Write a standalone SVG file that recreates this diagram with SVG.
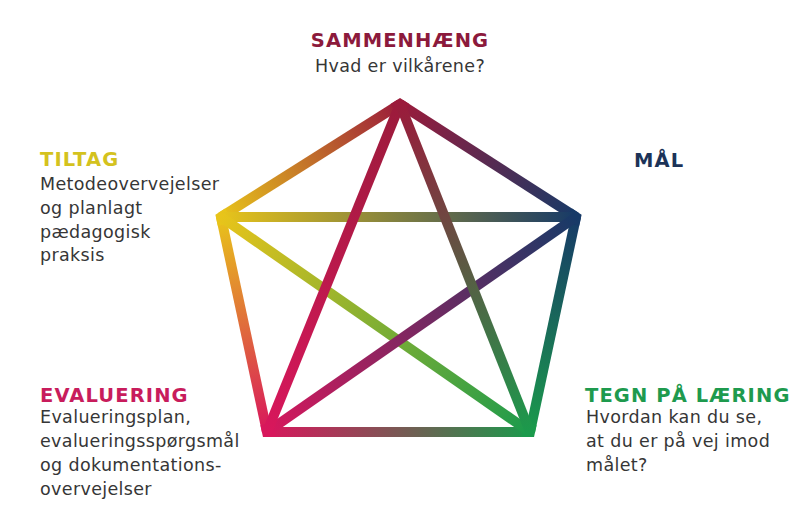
<svg xmlns="http://www.w3.org/2000/svg" width="805" height="505" viewBox="0 0 805 505">
<style>
.e{fill:none;stroke-width:10;stroke-linecap:butt}
.c{fill:none;stroke-width:10;stroke-linejoin:miter;stroke-miterlimit:10;stroke-linecap:butt}
.h{font-family:"DejaVu Sans",Verdana,sans-serif;font-weight:bold;font-size:19.5px;letter-spacing:1.1px}
.b{font-family:"DejaVu Sans",Verdana,sans-serif;font-size:17.5px;fill:#363636;letter-spacing:0.35px}
</style>
<defs>
<linearGradient id="gTR" gradientUnits="userSpaceOnUse" x1="400" y1="104" x2="576" y2="217"><stop offset="0" stop-color="#9b1b3b"/><stop offset="1" stop-color="#173a67"/></linearGradient>
<linearGradient id="gRBR" gradientUnits="userSpaceOnUse" x1="576" y1="217" x2="530" y2="432"><stop offset="0" stop-color="#173a67"/><stop offset="1" stop-color="#1b9a4c"/></linearGradient>
<linearGradient id="gBRBL" gradientUnits="userSpaceOnUse" x1="530" y1="432" x2="267" y2="432"><stop offset="0" stop-color="#1b9a4c"/><stop offset="1" stop-color="#d8175c"/></linearGradient>
<linearGradient id="gBLL" gradientUnits="userSpaceOnUse" x1="267" y1="432" x2="221" y2="217"><stop offset="0" stop-color="#d8175c"/><stop offset="1" stop-color="#e8c41a"/></linearGradient>
<linearGradient id="gLT" gradientUnits="userSpaceOnUse" x1="221" y1="217" x2="400" y2="104"><stop offset="0" stop-color="#e8c41a"/><stop offset="1" stop-color="#9b1b3b"/></linearGradient>
<linearGradient id="gTBL" gradientUnits="userSpaceOnUse" x1="400" y1="104" x2="267" y2="432"><stop offset="0" stop-color="#9b1b3b"/><stop offset="1" stop-color="#d8175c"/></linearGradient>
<linearGradient id="gTBR" gradientUnits="userSpaceOnUse" x1="400" y1="104" x2="530" y2="432"><stop offset="0" stop-color="#9b1b3b"/><stop offset="1" stop-color="#1b9a4c"/></linearGradient>
<linearGradient id="gLR" gradientUnits="userSpaceOnUse" x1="221" y1="217" x2="576" y2="217"><stop offset="0" stop-color="#e8c41a"/><stop offset="1" stop-color="#173a67"/></linearGradient>
<linearGradient id="gLBR" gradientUnits="userSpaceOnUse" x1="221" y1="217" x2="530" y2="432"><stop offset="0" stop-color="#e8c41a"/><stop offset="1" stop-color="#1b9a4c"/></linearGradient>
<linearGradient id="gRBL" gradientUnits="userSpaceOnUse" x1="576" y1="217" x2="267" y2="432"><stop offset="0" stop-color="#173a67"/><stop offset="1" stop-color="#d8175c"/></linearGradient>
</defs>
<rect width="805" height="505" fill="#ffffff"/>
<g id="connectors">
<line class="e" x1="400" y1="104" x2="576" y2="217" stroke="url(#gTR)"/>
<line class="e" x1="576" y1="217" x2="530" y2="432" stroke="url(#gRBR)"/>
<line class="e" x1="530" y1="432" x2="267" y2="432" stroke="url(#gBRBL)"/>
<line class="e" x1="267" y1="432" x2="221" y2="217" stroke="url(#gBLL)"/>
<line class="e" x1="221" y1="217" x2="400" y2="104" stroke="url(#gLT)"/>
<path class="c" d="M393.2 108.3L400 104L406.7 108.3" stroke="#9b1b3b"/>
<path class="c" d="M569.3 212.7L576 217L574.3 224.8" stroke="#173a67"/>
<path class="c" d="M531.7 424.2L530 432L522 432" stroke="#1b9a4c"/>
<path class="c" d="M275 432L267 432L265.3 424.2" stroke="#d8175c"/>
<path class="c" d="M222.7 224.8L221 217L227.8 212.7" stroke="#e8c41a"/>
<line class="e" x1="221" y1="217" x2="576" y2="217" stroke="url(#gLR)"/>
<line class="e" x1="221" y1="217" x2="530" y2="432" stroke="url(#gLBR)"/>
<line class="e" x1="576" y1="217" x2="267" y2="432" stroke="url(#gRBL)"/>
<line class="e" x1="400" y1="104" x2="267" y2="432" stroke="url(#gTBL)"/>
<line class="e" x1="400" y1="104" x2="530" y2="432" stroke="url(#gTBR)"/>
</g>
<g id="sammenhaeng">
<text class="h" x="400" y="47" text-anchor="middle" fill="#8c1a3c">SAMMENHÆNG</text>
<text class="b" x="400" y="72" text-anchor="middle">Hvad er vilkårene?</text>
</g>
<g id="maal">
<text class="h" x="634" y="167" fill="#1c3358">MÅL</text>
</g>
<g id="tiltag">
<text class="h" x="40" y="166" fill="#d4c21e">TILTAG</text>
<text class="b" x="40" y="190">Metodeovervejelser</text>
<text class="b" x="40" y="214">og planlagt</text>
<text class="b" x="40" y="238">pædagogisk</text>
<text class="b" x="40" y="261">praksis</text>
</g>
<g id="evaluering">
<text class="h" x="40" y="402" fill="#c81c5c">EVALUERING</text>
<text class="b" x="40" y="423">Evalueringsplan,</text>
<text class="b" x="40" y="447">evalueringsspørgsmål</text>
<text class="b" x="40" y="471">og dokumentations-</text>
<text class="b" x="40" y="495">overvejelser</text>
</g>
<g id="tegn">
<text class="h" x="585" y="402" fill="#1e9a4e">TEGN PÅ LÆRING</text>
<text class="b" x="586" y="423">Hvordan kan du se,</text>
<text class="b" x="586" y="447">at du er på vej imod</text>
<text class="b" x="586" y="471">målet?</text>
</g>
</svg>
